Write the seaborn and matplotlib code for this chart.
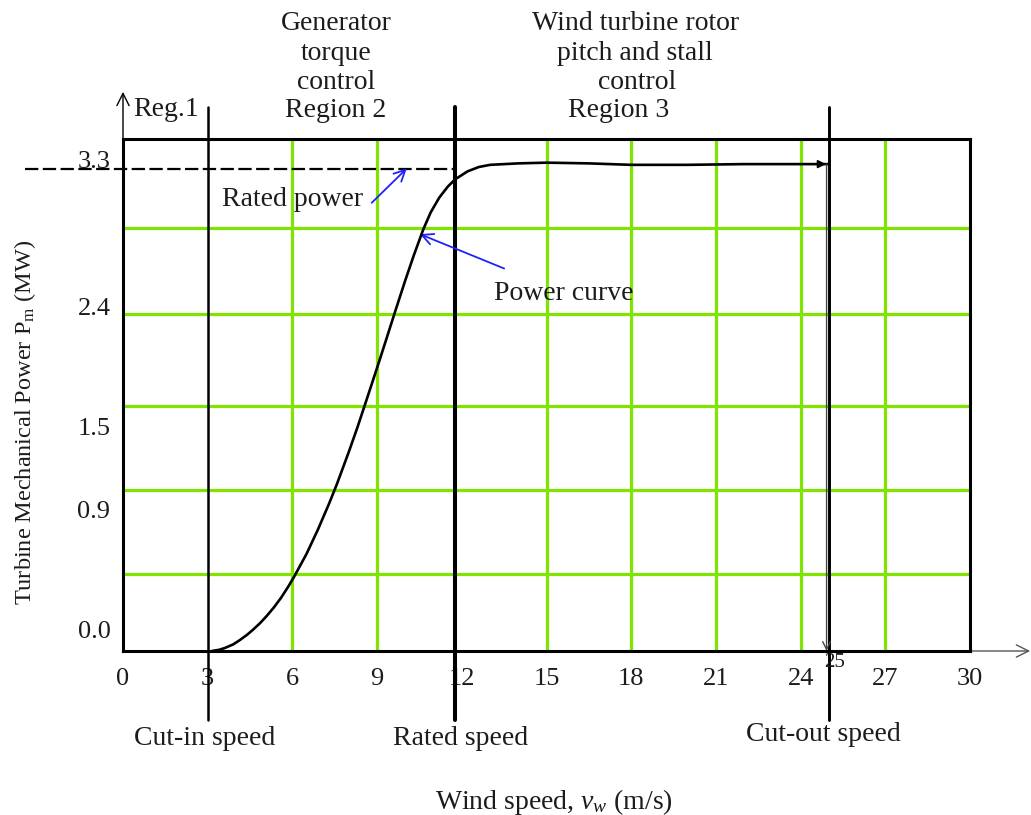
import numpy as np
import pandas as pd
import matplotlib
matplotlib.use("Agg")
import matplotlib.pyplot as plt
import matplotlib.transforms as mtransforms
import seaborn as sns

# ---------------- data ----------------
wind_speed = [3.15, 3.4, 3.6, 3.9, 4.14, 4.4, 4.6, 4.85, 5.09, 5.35, 5.6, 5.85, 6.05, 6.5, 6.9,
              7.3, 7.57, 8.0, 8.3, 8.6, 9.0, 9.3, 9.63, 10.0, 10.3, 10.64, 10.9, 11.2, 11.5,
              11.76, 12.2, 12.6, 13.0, 14.0, 15.0, 16.5, 18.0, 20.0, 22.0, 24.0, 25.0]
power_mw = [0.0, 0.008, 0.02, 0.045, 0.075, 0.112, 0.145, 0.19, 0.24, 0.30, 0.365, 0.44, 0.505,
            0.665, 0.83, 1.01, 1.14, 1.365, 1.53, 1.705, 1.94, 2.12, 2.32, 2.54, 2.71, 2.89,
            3.005, 3.105, 3.18, 3.23, 3.285, 3.315, 3.33, 3.34, 3.345, 3.34, 3.33, 3.33,
            3.335, 3.335, 3.335]

x_ticks = [0, 3, 6, 9, 12, 15, 18, 21, 24, 27, 30]
x_tick_labels = ["0", "3", "6", "9", "12", "15", "18", "21", "24", "27", "30"]
y_ticks = [0.0, 0.9, 1.5, 2.4, 3.3]
y_tick_labels = ["0.0", "0.9", "1.5", "2.4", "3.3"]

green_vlines = [6, 9, 15, 18, 21, 24, 27]
green_hlines = [0.53, 1.10, 1.68, 2.31, 2.90]
cut_in_speed = 3.0
rated_speed = 11.76
cut_out_speed = 25.0
rated_power = 3.3
x_max = 30
y_max = 3.507

region2_lines = ["Generator", "torque", "control", "Region 2"]
region3_lines = ["Wind turbine rotor", "pitch and stall", "control", "Region 3"]
speed_labels = ["Cut-in speed", "Rated speed", "Cut-out speed"]

df = pd.DataFrame({"wind": wind_speed, "power": power_mw})

# ---------------- style ----------------
sns.set_theme(style="white")
plt.rcParams["font.family"] = "serif"
plt.rcParams["font.serif"] = ["Liberation Serif"]
plt.rcParams["mathtext.fontset"] = "custom"
plt.rcParams["mathtext.rm"] = "Liberation Serif"
plt.rcParams["mathtext.it"] = "Liberation Serif:italic"

TXT = "#1c1c1c"
GREEN = "#80E400"
BLUE = "#2020FF"
FS = 20

fig = plt.figure(figsize=(10.31, 8.15), dpi=100)
ax = fig.add_axes([123 / 1031, (815 - 651) / 815, 847 / 1031, 512 / 815])
ax.set_xlim(0, x_max)
ax.set_ylim(0, y_max)

# grid
for gx in green_vlines:
    ax.axvline(gx, color=GREEN, lw=2.3, zorder=1)
for gy in green_hlines:
    ax.axhline(gy, color=GREEN, lw=2.3, zorder=1)

# vertical speed lines
ax.plot([cut_in_speed, cut_in_speed], [-0.473, 3.726], color="black", lw=1.8, clip_on=False, zorder=3)
ax.plot([rated_speed, rated_speed], [-0.473, 3.726], color="black", lw=2.9, clip_on=False, zorder=3)
ax.plot([cut_out_speed, cut_out_speed], [-0.473, 3.726], color="black", lw=2.1, clip_on=False, zorder=3)

# rated power dashed line
ax.plot([-3.47, rated_speed], [rated_power, rated_power], color="black", lw=1.6,
        dashes=(6, 2), clip_on=False, zorder=3)

# power curve
sns.lineplot(data=df, x="wind", y="power", ax=ax, color="black", lw=1.9, sort=False,
             zorder=4, clip_on=False)
ax.annotate("", xy=(wind_speed[-1], power_mw[-1]), xytext=(wind_speed[-1] - 0.6, power_mw[-1]),
            arrowprops=dict(arrowstyle="-|>", color="black", lw=1.2, mutation_scale=12),
            zorder=5)
ax.annotate("", xy=(cut_out_speed - 0.08, 0), xytext=(cut_out_speed - 0.08, power_mw[-1]),
            arrowprops=dict(arrowstyle="->", color="#444444", lw=1.0, mutation_scale=14,
                            shrinkA=0, shrinkB=0), zorder=5)

# axis arrows
ax.annotate("", xy=(0, 3.83), xytext=(0, y_max), xycoords="data",
            arrowprops=dict(arrowstyle="->", color="black", lw=1.0, mutation_scale=22,
                            shrinkA=0, shrinkB=0), annotation_clip=False)
ax.annotate("", xy=(32.13, 0), xytext=(x_max, 0), xycoords="data",
            arrowprops=dict(arrowstyle="->", color="#555555", lw=1.0, mutation_scale=22,
                            shrinkA=0, shrinkB=0), annotation_clip=False)

# spines
for s in ax.spines.values():
    s.set_visible(True)
    s.set_color("black")
    s.set_linewidth(2.2)
    s.set_zorder(6)

# ticks
ax.set_xticks(x_ticks)
ax.set_xticklabels(x_tick_labels)
ax.set_yticks(y_ticks)
ax.set_yticklabels(y_tick_labels)
ax.tick_params(axis="x", length=0, pad=12, labelsize=19, labelcolor=TXT)
ax.tick_params(axis="y", length=0, pad=9, labelsize=19, labelcolor=TXT)
y_offsets_px = [21, 10, 6, -6, 10]
for lab, dy in zip(ax.get_yticklabels(), y_offsets_px):
    lab.set_transform(lab.get_transform() +
                      mtransforms.ScaledTranslation(0, dy / 100, fig.dpi_scale_trans))
ax.text(25.19, -0.082, "25", fontsize=15, color=TXT, ha="center", va="center")

# labels
ax.set_xlabel("Wind speed, $\\mathit{v}_{\\mathit{w}}$ (m/s)", fontsize=FS, color=TXT)
ax.xaxis.set_label_coords(0.509, -0.295)
ax.xaxis.label.set_va("center")
ax.set_ylabel("Turbine Mechanical Power P$_{\\mathrm{m}}$ (MW)", fontsize=17.5, color=TXT)
ax.yaxis.set_label_coords(-0.1157, 0.447)
ax.yaxis.label.set_va("center")
ax.yaxis.label.set_ha("center")

# region texts (baseline aligned)
ax.text(0.35, 3.664, "Reg.1", fontsize=FS, color=TXT, ha="left", va="baseline")
line_y = [4.252, 4.048, 3.852, 3.655]
for txt, yy in zip(region2_lines, line_y):
    ax.text(7.54, yy, txt, fontsize=FS, color=TXT, ha="center", va="baseline")
region3_x = [18.14, 18.14, 18.2, 17.57]
for txt, xx, yy in zip(region3_lines, region3_x, line_y):
    ax.text(xx, yy, txt, fontsize=FS, color=TXT, ha="center", va="baseline")

# speed labels
ax.text(2.9, -0.596, speed_labels[0], fontsize=FS, color=TXT, ha="center", va="center")
ax.text(11.94, -0.596, speed_labels[1], fontsize=FS, color=TXT, ha="center", va="center")
ax.text(24.8, -0.575, speed_labels[2], fontsize=FS, color=TXT, ha="center", va="center")

# annotations
ax.text(3.49, 3.09, "Rated power", fontsize=FS, color=TXT, ha="left", va="center")
ax.annotate("", xy=(10.05, 3.305), xytext=(8.81, 3.07),
            arrowprops=dict(arrowstyle="->", color=BLUE, lw=1.3, mutation_scale=20,
                            shrinkA=0, shrinkB=0))
ax.text(13.14, 2.45, "Power curve", fontsize=FS, color=TXT, ha="left", va="center")
ax.annotate("", xy=(10.52, 2.855), xytext=(13.5, 2.62),
            arrowprops=dict(arrowstyle="->", color=BLUE, lw=1.3, mutation_scale=20,
                            shrinkA=0, shrinkB=0))

fig.savefig("out.png", dpi=100)
